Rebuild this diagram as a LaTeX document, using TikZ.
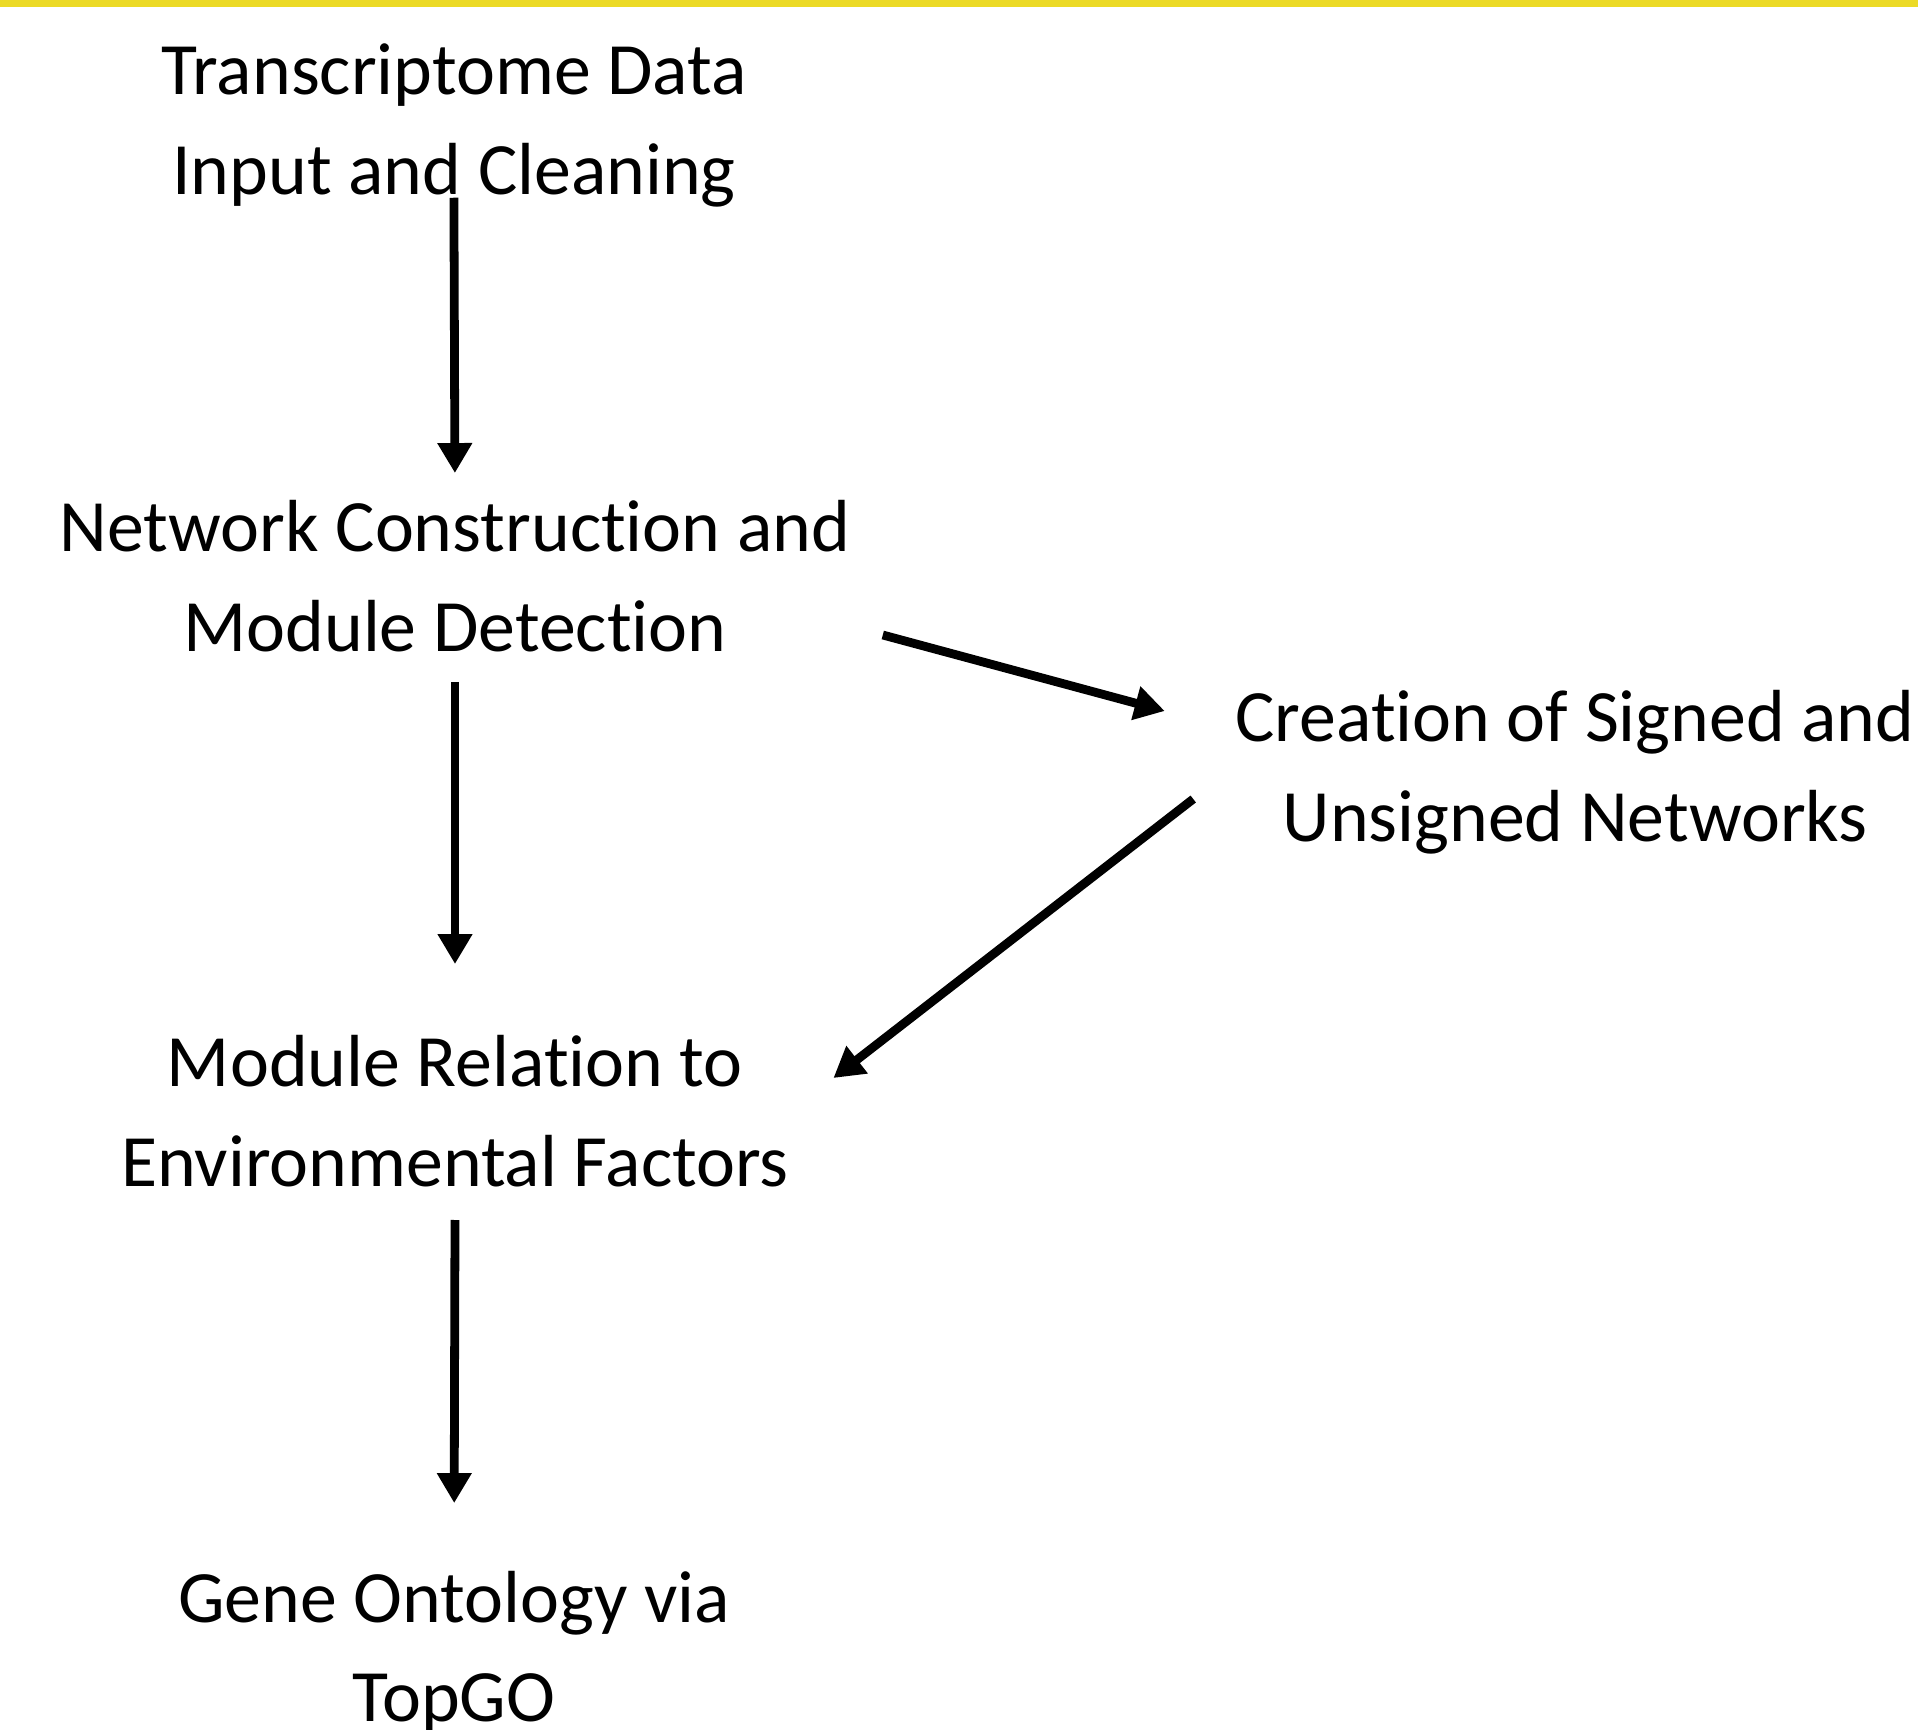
\documentclass[tikz,border=0pt]{standalone}
\usepackage{fontspec}
\setmainfont{Carlito}[Ligatures=NoCommon]
\usepackage{tikz}
\usetikzlibrary{arrows.meta}
\definecolor{barYellow}{RGB}{236,218,38}

\begin{document}
\begin{tikzpicture}[
		stage/.style={align=center, inner sep=0pt, font=\fontsize{21}{28.3}\selectfont,
			execute at begin node=\strut, execute at end node=\strut},
		arr/.style={line width=2.5pt, -{Triangle[length=0.3cm, width=0.33cm]}}
	]
	\useasboundingbox (0,0) rectangle (19.18,-17.29);
	\fill[barYellow] (0,0) rectangle (19.18,-0.07);

	\node[stage] (data) at (4.54,-1.34) {Transcriptome Data\\Input and Cleaning};
	\node[stage] (net) at (4.55,-5.91) {Network Construction and\\Module Detection};
	\node[stage] (env) at (4.55,-11.26) {Module Relation to\\Environmental Factors};
	\node[stage] (go) at (4.54,-16.61) {Gene Ontology via\\TopGO};
	\node[stage] (sign) at (15.75,-7.81) {Creation of Signed and\\Unsigned Networks};

	\draw[arr, shorten <=-0.27cm, shorten >=0.27cm] (data.south) -- (net.north);
	\draw[arr, shorten <=0cm, shorten >=0.71cm] (net.south) -- (env.north);
	\draw[arr, shorten <=0.03cm, shorten >=0.67cm] (env.south) -- (go.north);
	\draw[arr] ([shift={(0.32,0.47)}]net.south east) -- ([shift={(-0.7,0.7)}]sign.west);
	\draw[arr] ([shift={(-0.415,-0.18)}]sign.west) -- ([shift={(0.44,0.48)}]env.east);
\end{tikzpicture}
\end{document}
